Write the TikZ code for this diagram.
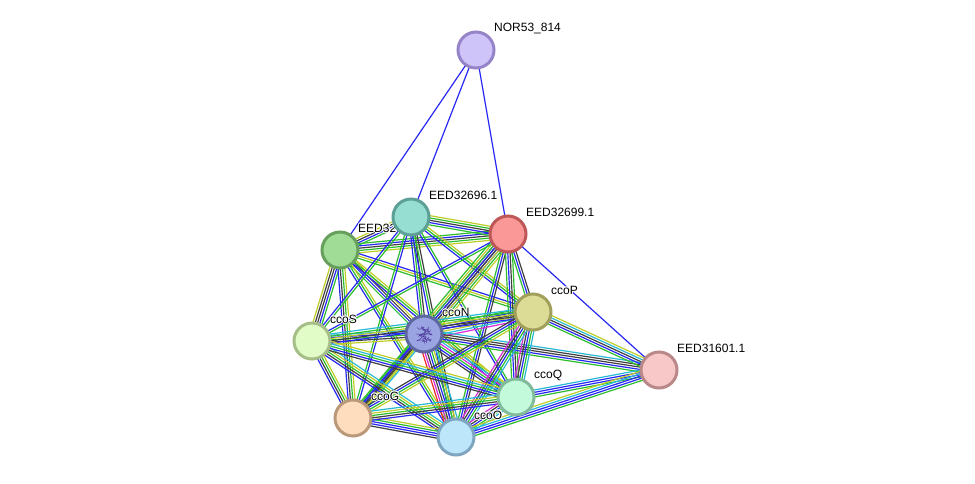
\documentclass[tikz,border=0pt]{standalone}
\usepackage{fontspec}
\setmainfont{Liberation Sans}
\usetikzlibrary{calc,decorations.pathmorphing}
\pgfdeclarelayer{bglayer}
\pgfdeclarelayer{edgelayer}
\pgfsetlayers{bglayer,edgelayer,main}
\definecolor{cgC}{RGB}{45,190,45}
\definecolor{cbC}{RGB}{40,40,245}
\definecolor{ckC}{RGB}{65,65,65}
\definecolor{cyC}{RGB}{190,205,40}
\definecolor{ccC}{RGB}{40,185,215}
\definecolor{cmC}{RGB}{215,45,215}
\definecolor{crC}{RGB}{240,40,40}
\tikzset{
  lng/.style={draw=cgC}, lnb/.style={draw=cbC}, lnk/.style={draw=ckC},
  lny/.style={draw=cyC}, lnc/.style={draw=ccC}, lnm/.style={draw=cmC}, lnr/.style={draw=crC},
  prot/.style={circle, minimum size=36pt, line width=3pt, inner sep=0pt},
  lbl/.style={anchor=west, inner sep=0pt, font=\fontsize{12pt}{14pt}\selectfont}
}
\newcommand\halotext[1]{\leavevmode
  \rlap{\color{white}\kern.9pt #1}\rlap{\color{white}\kern-.9pt #1}%
  \rlap{\color{white}\raise.9pt\hbox{#1}}\rlap{\color{white}\raise-.9pt\hbox{#1}}%
  \rlap{\color{white}\kern.65pt\raise.65pt\hbox{#1}}\rlap{\color{white}\kern-.65pt\raise.65pt\hbox{#1}}%
  \rlap{\color{white}\kern.65pt\raise-.65pt\hbox{#1}}\rlap{\color{white}\kern-.65pt\raise-.65pt\hbox{#1}}%
  #1}
\newcommand\bund[3]{%
  \foreach \c [count=\k] in {#3}{\xdef\bn{\k}}%
  \foreach \c [count=\k] in {#3}{%
    \pgfmathsetmacro\off{(\k-(\bn+1)/2)*2.3}%
    \draw[ln\c, line width=1.2pt] ($(#1.center)!\off pt!90:(#2.center)$) -- ($(#2.center)!\off pt!-90:(#1.center)$);
  }}
\begin{document}
\begin{tikzpicture}[x=1pt,y=-1pt]
\useasboundingbox (0,0) rectangle (975,483);
\begin{pgfonlayer}{bglayer}
\fill[white] (0,0) rectangle (975,483);
\end{pgfonlayer}
% nodes with labels (label drawn right after its node)
\node[prot, fill={rgb,255:red,160;green,220;blue,150}, draw={rgb,255:red,102;green,160;blue,92}] (A) at (340,250) {};
\node[lbl] (lA) at ([shift={(18,-22)}]A.center) {\halotext{EED32}};
\node[prot, fill={rgb,255:red,150;green,221;blue,210}, draw={rgb,255:red,92;green,160;blue,150}] (B) at (411,217) {};
\node[lbl] (lB) at ([shift={(18,-22)}]B.center) {\halotext{EED32696.1}};
\node[prot, fill={rgb,255:red,250;green,152;blue,152}, draw={rgb,255:red,190;green,88;blue,88}] (C) at (508,234) {};
\node[lbl] (lC) at ([shift={(18,-22)}]C.center) {\halotext{EED32699.1}};
\node[prot, fill={rgb,255:red,206;green,196;blue,250}, draw={rgb,255:red,150;green,132;blue,200}] (R) at (476,50) {};
\node[lbl] (lR) at ([shift={(18,-22)}]R.center) {\halotext{NOR53\_814}};
\node[prot, fill={rgb,255:red,221;green,220;blue,150}, draw={rgb,255:red,160;green,160;blue,92}] (P) at (533,312) {};
\node[lbl] (lP) at ([shift={(18,-22)}]P.center) {\halotext{ccoP}};
\node[prot, fill={rgb,255:red,226;green,252;blue,200}, draw={rgb,255:red,166;green,190;blue,136}] (S) at (312,341) {};
\node[lbl] (lS) at ([shift={(18,-22)}]S.center) {\halotext{ccoS}};
\node[prot, fill={rgb,255:red,155;green,164;blue,226}, draw={rgb,255:red,94;green,104;blue,160}] (N) at (424,334) {};
\node[lbl] (lN) at ([shift={(18,-22)}]N.center) {\halotext{ccoN}};
\node[prot, fill={rgb,255:red,248;green,200;blue,200}, draw={rgb,255:red,186;green,136;blue,136}] (E) at (659,370) {};
\node[lbl] (lE) at ([shift={(18,-22)}]E.center) {\halotext{EED31601.1}};
\node[prot, fill={rgb,255:red,196;green,250;blue,220}, draw={rgb,255:red,130;green,186;blue,156}] (Q) at (516,397) {};
\node[lbl] (lQ) at ([shift={(18,-22)}]Q.center) {\halotext{ccoQ}};
\node[prot, fill={rgb,255:red,253;green,221;blue,190}, draw={rgb,255:red,186;green,152;blue,122}] (G) at (353,418) {};
\node[lbl] (lG) at ([shift={(18,-22)}]G.center) {\halotext{ccoG}};
\node[prot, fill={rgb,255:red,190;green,230;blue,250}, draw={rgb,255:red,126;green,166;blue,192}] (O) at (456,437) {};
\node[lbl] (lO) at ([shift={(18,-22)}]O.center) {\halotext{ccoO}};
% protein structure inside ccoN
\begin{scope}[line width=0.5pt, draw={rgb,255:red,80;green,62;blue,160}]
  \pgfmathsetseed{7}
  \draw[decorate, decoration={random steps, segment length=1.2pt, amplitude=1.4pt}]
    ($(N.center)+(-7,-6)$) -- ($(N.center)+(6,-3)$) -- ($(N.center)+(-5,2)$) -- ($(N.center)+(7,6)$) -- ($(N.center)+(-2,8)$);
  \draw[decorate, decoration={random steps, segment length=1.2pt, amplitude=1.4pt}]
    ($(N.center)+(-2,-8)$) -- ($(N.center)+(2,5)$) -- ($(N.center)+(-7,7)$) -- ($(N.center)+(5,-7)$);
  \draw[decorate, decoration={random steps, segment length=1.2pt, amplitude=1.2pt}]
    ($(N.center)+(-8,0)$) -- ($(N.center)+(8,1)$) -- ($(N.center)+(0,-5)$);
\end{scope}
% edges
\begin{pgfonlayer}{edgelayer}
\bund{R}{A}{b}
\bund{R}{B}{b}
\bund{R}{C}{b}
\bund{C}{E}{b}
\bund{A}{B}{g,b,k,y}
\bund{A}{C}{y,g,k,b,g}
\bund{A}{S}{y,k,k,b,g}
\bund{A}{N}{g,b,k,y}
\bund{A}{P}{g,y,b}
\bund{A}{G}{b,k,g,y}
\bund{A}{O}{b,g,y}
\bund{A}{Q}{b,g,y}
\bund{B}{C}{g,b,k,g,y}
\bund{B}{S}{b,g}
\bund{B}{N}{b,g,k}
\bund{B}{P}{b,g,y}
\bund{B}{G}{g,b}
\bund{B}{O}{b,g,k}
\bund{B}{Q}{b,g}
\bund{C}{N}{g,y,b,k,b,b,g,y}
\bund{C}{P}{g,b,k}
\bund{C}{S}{b,g}
\bund{C}{G}{g,b,k,y}
\bund{C}{O}{g,b,k}
\bund{C}{Q}{g,b,k,g}
\bund{N}{S}{c,b,g,k,y}
\bund{N}{P}{m,c,y,k,b,g}
\bund{N}{Q}{k,b,g,m,c,y}
\bund{N}{O}{r,m,k,b,g,y,c}
\bund{N}{G}{g,b,k,y,c}
\bund{N}{E}{g,b,k,k,c}
\bund{P}{S}{c,g,y,k,b}
\bund{P}{Q}{m,k,b,g,c}
\bund{P}{O}{m,k,b,g,c}
\bund{P}{G}{k,b,g,y}
\bund{P}{E}{g,b,k,c,y}
\bund{S}{G}{b,k,g,y}
\bund{S}{O}{b,k,g,y,c}
\bund{S}{Q}{k,b,g,c,y}
\bund{G}{O}{k,b,b,g,y}
\bund{G}{Q}{b,k,g,y,c}
\bund{Q}{O}{m,k,b,g,c}
\bund{Q}{E}{g,b,b,c}
\bund{O}{E}{g,b,b,c,y}
\end{pgfonlayer}
\end{tikzpicture}
\end{document}
